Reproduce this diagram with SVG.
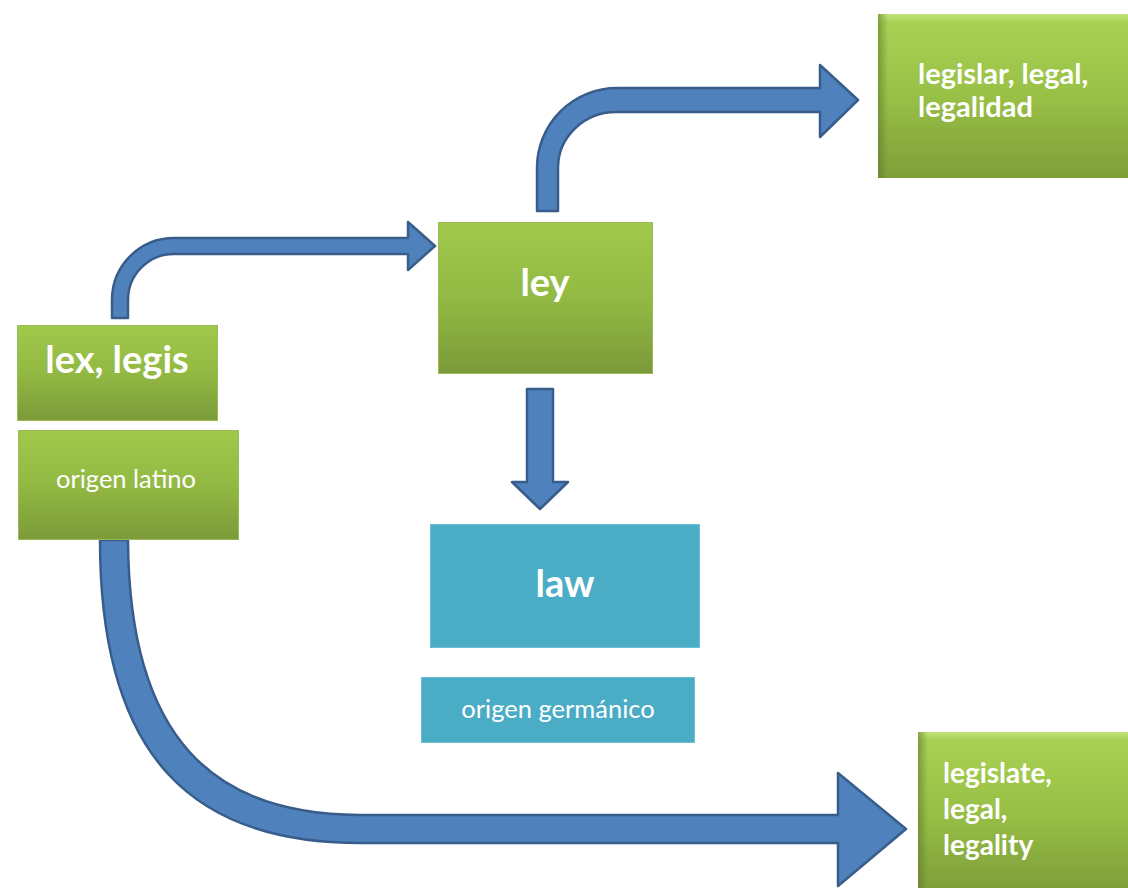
<svg xmlns="http://www.w3.org/2000/svg" width="1128" height="888" viewBox="0 0 1128 888">
<defs>
<linearGradient id="green" x1="0" y1="0" x2="0" y2="1">
<stop offset="0" stop-color="#A0C94C"/>
<stop offset="0.5" stop-color="#92B943"/>
<stop offset="1" stop-color="#7B9A39"/>
</linearGradient>
<linearGradient id="green2" x1="0" y1="0" x2="0" y2="1">
<stop offset="0" stop-color="#C4E27A"/>
<stop offset="0.05" stop-color="#A8D154"/>
<stop offset="0.5" stop-color="#98C046"/>
<stop offset="1" stop-color="#7F9E3A"/>
</linearGradient>
<linearGradient id="edge" x1="0" y1="0" x2="1" y2="0">
<stop offset="0" stop-color="#5E7A2A" stop-opacity="0.6"/>
<stop offset="1" stop-color="#5E7A2A" stop-opacity="0"/>
</linearGradient>
<style>
.g{fill:url(#green);stroke:#9BBB59;stroke-width:1}
.g2{fill:url(#green2)}
.t{fill:#4BACC6;stroke:#6CC0D6;stroke-width:1}
.arr{fill:#4F81BD;stroke:#385D8A;stroke-width:2.5;stroke-linejoin:round}
.big{font-family:Lato,"Open Sans",sans-serif;font-weight:bold;font-size:38px;fill:#fff;text-anchor:middle}
.mid{font-family:Lato,"Open Sans",sans-serif;font-weight:bold;font-size:29px;fill:#fff}
.mid2{font-family:Lato,"Open Sans",sans-serif;font-weight:bold;font-size:28px;fill:#fff}
.sm{font-family:Lato,"Open Sans",sans-serif;font-size:25.5px;fill:#fff;text-anchor:middle}
</style>
</defs>
<rect width="1128" height="888" fill="#fff"/>

<g id="connectors">
<path class="arr" d="M112,318 L112,300 A62,62 0 0 1 174,238 L408,238 L408,222 L435,246 L408,270 L408,254 L174,254 A46,46 0 0 0 128,300 L128,318 Z"/>
<path class="arr" d="M537,211 L537,168 A80,80 0 0 1 617,88 L820,88 L820,65 L858,100 L820,137 L820,112 L617,112 A58,56 0 0 0 558,168 L558,211 Z"/>
<path class="arr" d="M527,389 L553,389 L553,482 L568,482 L540,509 L512,482 L527,482 Z"/>
<path class="arr" d="M100,540 L128,540 C129,740 215,815 360,815 L838,815 L838,773 L906,829 L838,886 L838,843 L360,843 C195,843 100,760 100,540 Z"/>
</g>

<g id="lex">
<rect class="g" x="17.5" y="325.5" width="200" height="95"/>
<text class="big" x="117" y="373">lex, legis</text>
</g>
<g id="origen-latino">
<rect class="g" x="18.5" y="430.5" width="220" height="109"/>
<text class="sm" x="126" y="488">origen latino</text>
</g>
<g id="ley">
<rect class="g" x="438.5" y="222.5" width="214" height="151"/>
<text class="big" x="545" y="296">ley</text>
</g>
<g id="law">
<rect class="t" x="430.5" y="524.5" width="269" height="123"/>
<text class="big" x="565" y="597">law</text>
</g>
<g id="origen-germanico">
<rect class="t" x="421.5" y="677.5" width="273" height="65"/>
<text class="sm" x="558" y="718">origen germánico</text>
</g>
<g id="legislar">
<rect class="g2" x="878" y="14" width="252" height="164"/>
<rect x="878" y="14" width="10" height="164" fill="url(#edge)"/>
<text class="mid" x="918" y="84">legislar, legal,</text>
<text class="mid" x="918" y="117">legalidad</text>
</g>
<g id="legislate">
<rect class="g2" x="918" y="732" width="212" height="158"/>
<rect x="918" y="732" width="10" height="158" fill="url(#edge)"/>
<text class="mid2" x="943" y="783">legislate,</text>
<text class="mid2" x="943" y="819">legal,</text>
<text class="mid2" x="943" y="855">legality</text>
</g>
</svg>
